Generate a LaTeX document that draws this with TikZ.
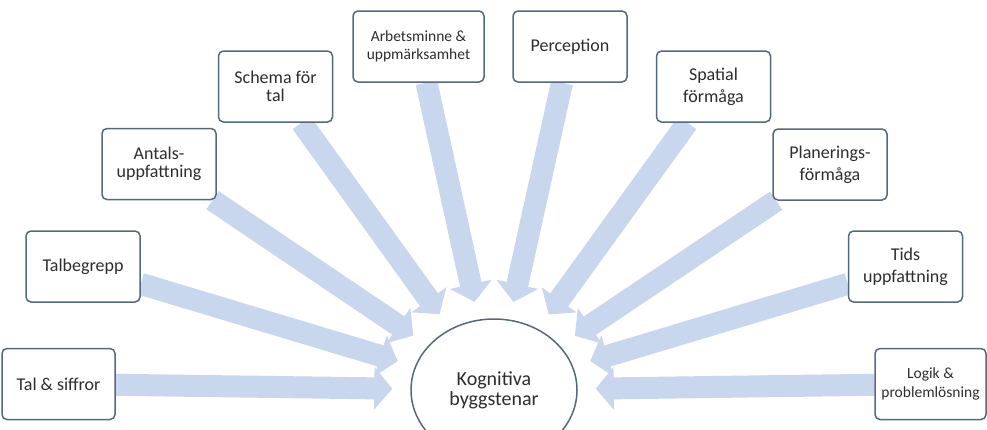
\documentclass[tikz,border=0pt]{standalone}
\usepackage{fontspec}
\setmainfont{Carlito}
\usetikzlibrary{arrows.meta,shapes.geometric,backgrounds}
\definecolor{kant}{RGB}{84,104,130}
\definecolor{pilbla}{RGB}{200,215,237}
\definecolor{text}{RGB}{45,45,45}

\begin{document}
\begin{tikzpicture}[x=1pt, y=-1pt,
    ruta/.style={draw=kant, line width=1.5pt, rounded corners=5pt, fill=white,
      minimum width=114pt, minimum height=71pt, inner sep=0pt, align=center,
      text=text, font=\fontsize{18}{20}\selectfont},
    pil/.style={draw=pilbla, line width=22pt, shorten >=18pt,
      -{Triangle[length=18pt, width=42pt]}}]
    \path[use as bounding box, clip] (0,0) rectangle (987,429);
    % mitten
    \node[ellipse, draw=kant, line width=1.5pt, fill=white, minimum width=166pt,
      minimum height=142pt, inner sep=0pt, align=center, text=text,
      font=\fontsize{20}{20}\selectfont] (kog) at (494,390) {Kognitiva\\byggstenar};
    % vänster sida
    \node[ruta, minimum width=113pt] (tal) at (58.5,384) {Tal \& siffror};
    \node[ruta] (talbegrepp) at (83,266.5) {Talbegrepp};
    \node[ruta, font=\fontsize{18}{18.5}\selectfont] (antal) at (159,164) {Antals-\\uppfattning};
    \node[ruta, font=\fontsize{18}{18.5}\selectfont] (schema) at (275.5,86.5) {Schema för\\tal};
    \node[ruta, minimum width=131pt, font=\fontsize{15.5}{18}\selectfont] (arbete) at (418.5,46.5) {Arbetsminne \&\\uppmärksamhet};
    % höger sida
    \node[ruta] (perception) at (570,46.5) {Perception};
    \node[ruta, font=\fontsize{18}{22}\selectfont] (spatial) at (713.5,86.5) {Spatial\\förmåga};
    \node[ruta, font=\fontsize{18}{22}\selectfont] (planering) at (830,164.5) {Planerings-\\förmåga};
    \node[ruta, font=\fontsize{18}{22}\selectfont] (tid) at (905.5,266.5) {Tids\\uppfattning};
    \node[ruta, minimum width=111pt, font=\fontsize{15.5}{19}\selectfont] (logik) at (930.5,384) {Logik \&\\problemlösning};
    % pilar
    \begin{scope}[on background layer]
        \foreach \k in {tal,talbegrepp,antal,schema,arbete,perception,spatial,planering,tid,logik}
            \draw[pil] (\k) -- (kog);
    \end{scope}
\end{tikzpicture}
\end{document}
